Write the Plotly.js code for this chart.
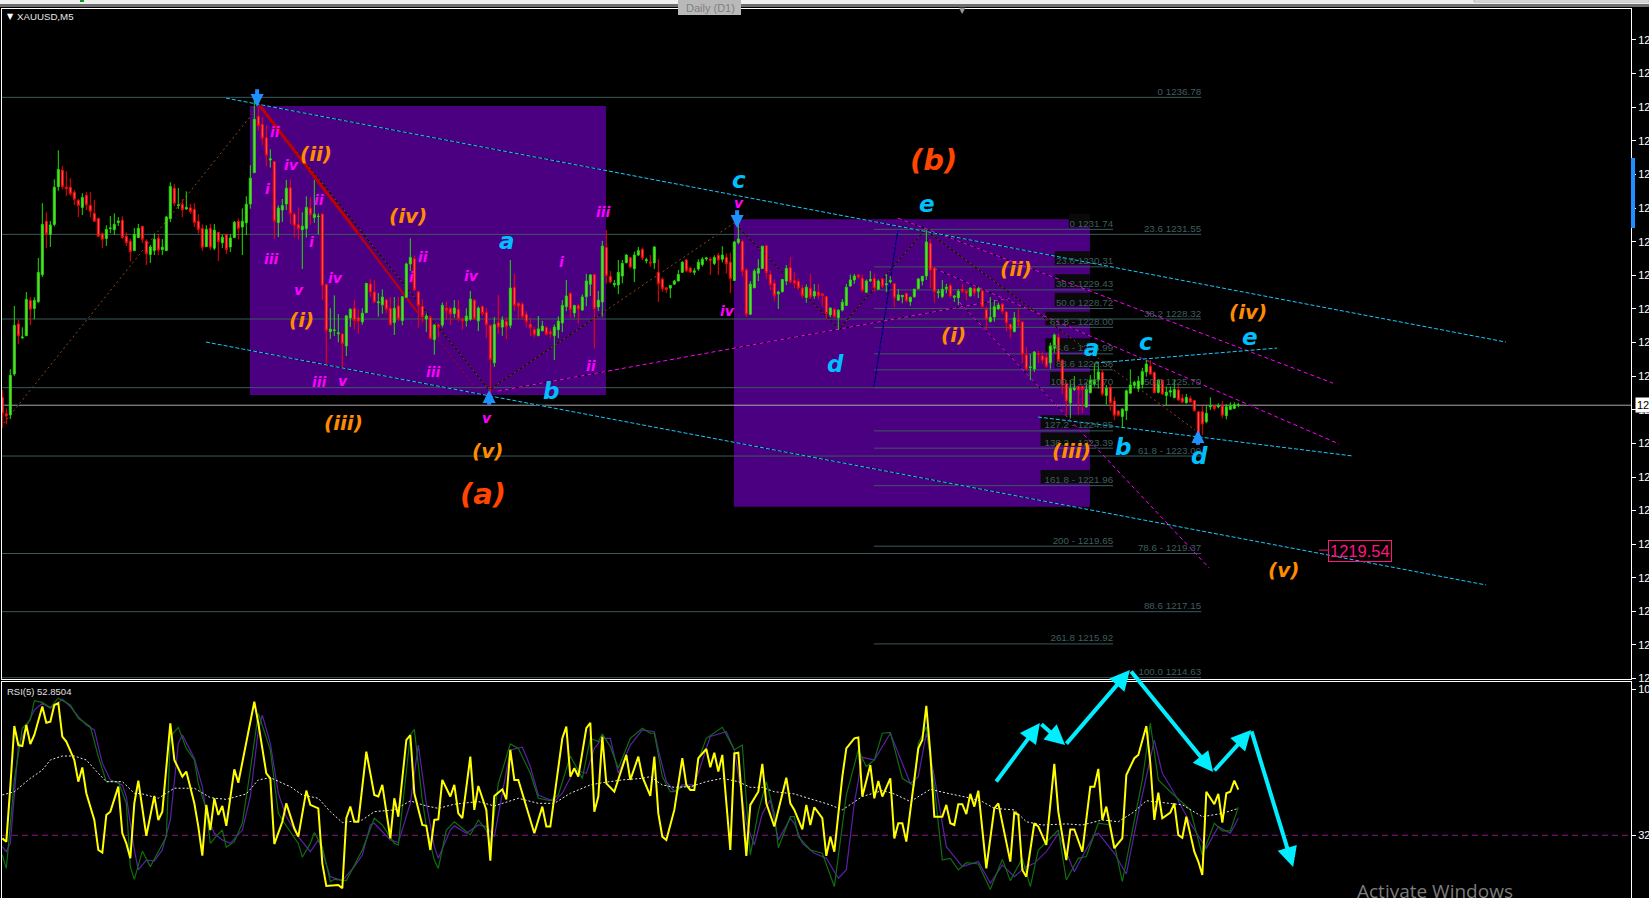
<!DOCTYPE html>
<html><head><meta charset="utf-8">
<script src="https://cdn.plot.ly/plotly-3.0.1.min.js"></script>
<style>html,body{margin:0;padding:0;background:#000;overflow:hidden}</style></head>
<body><div id="chart" style="width:1649px;height:898px"></div>
<script>
const high=[1225.61,1224.91,1226.40,1228.82,1228.28,1228.00,1229.35,1229.15,1229.15,1230.65,
1232.74,1232.39,1232.06,1233.65,1234.76,1234.16,1233.96,1233.69,1233.24,1232.91,
1233.12,1233.16,1233.16,1232.86,1232.18,1231.62,1231.90,1232.25,1232.35,1232.21,
1232.24,1231.63,1231.39,1231.79,1231.95,1231.87,1231.36,1231.15,1231.59,1231.55,
1231.37,1232.25,1233.54,1233.47,1233.32,1232.89,1233.19,1232.71,1232.74,1232.32,
1231.93,1231.90,1231.95,1231.95,1231.63,1231.55,1231.55,1231.55,1232.06,1232.16,
1232.54,1233.00,1234.19,1236.78,1236.40,1236.02,1235.71,1234.80,1234.34,1232.66,
1232.90,1233.63,1233.65,1232.39,1232.58,1232.39,1233.00,1232.96,1233.63,1232.35,
1232.34,1229.66,1228.73,1229.22,1228.51,1227.76,1228.47,1228.73,1229.03,1228.69,
1228.73,1229.68,1229.84,1229.80,1229.31,1229.45,1229.07,1229.16,1229.16,1229.16,
1229.20,1230.47,1231.40,1230.75,1229.36,
1229.08,1228.53,1228.44,1228.11,1228.13,1228.95,1228.98,1228.74,1229.04,1229.04,
1228.38,1228.73,1229.39,1229.08,1228.80,1228.84,1228.74,1228.10,1228.39,1229.23,
1228.42,1228.39,1230.57,1230.04,1228.97,1228.97,1228.61,1228.38,1228.03,1228.43,
1228.25,1228.05,1227.96,1228.11,1228.42,1229.04,1229.81,1229.34,1228.85,1228.89,
1229.26,1230.04,1230.04,1230.04,1229.39,1231.30,1231.71,1230.15,1229.81,1230.57,
1230.57,1230.80,
1230.67,1230.89,1231.07,1231.05,1230.66,1230.76,1231.10,1230.60,1229.90,1229.53,
1229.62,1229.81,1230.19,1230.52,1230.61,1230.32,1230.26,1230.60,1230.68,1230.68,
1230.68,1230.75,1230.84,1231.10,1230.82,1230.86,1231.30,1232.10,1231.36,1230.25,
1229.77,1230.23,1230.60,1231.10,1231.13,1230.19,1229.83,1229.40,1229.84,1230.38,
1230.68,1230.12,1229.87,1229.62,1229.64,1230.04,1229.65,1229.65,1229.30,1229.20,
1228.75,1228.75,1228.70,
1229.08,1229.66,1230.02,1230.04,1230.04,1230.02,1229.83,1230.15,1230.04,1229.83,
1229.88,1230.04,1229.96,1229.69,1229.46,1229.22,1229.31,1229.17,1229.46,1229.88,
1229.96,1231.72,1231.37,1230.29,1229.46,1229.81,1229.66,1229.68,1229.22,1229.46,
1229.66,1229.39,1229.53,1229.53,1229.55,1229.46,1228.79,1229.15,1229.04,1228.94,
1228.92,1228.61,1228.12,1228.59,1228.69,1228.22,1227.25,1226.98,1227.10,1227.10,
1227.07,1227.01,1227.41,1227.77,1227.77,1226.78,1225.99,1225.99,1226.14,1225.76,
1225.76,1225.89,1226.18,1226.63,1226.63,1226.37,1225.80,1225.80,1225.35,1224.84,
1224.91,1225.63,1226.40,1225.96,1226.14,1226.46,1226.75,1226.75,1226.31,1226.02,
1226.02,1225.74,1225.74,1225.99,1225.79,1225.46,1225.46,1225.38,1225.23,1224.78,
1225.00,1225.00,1225.33,1225.04,1225.10,1225.19,1225.07,1225.14,1225.14,1225.12];
const bodyTop=[1225.33,1224.70,1226.17,1228.08,1228.13,1227.63,1229.07,1229.03,1229.03,1230.10,
1231.93,1232.05,1231.91,1233.35,1234.03,1234.00,1233.35,1233.35,1233.16,1232.85,
1232.96,1233.04,1232.66,1232.35,1232.16,1231.57,1231.74,1231.79,1231.93,1232.06,
1232.09,1231.48,1231.29,1231.55,1231.78,1231.86,1231.29,1231.07,1231.36,1231.40,
1231.06,1232.21,1233.38,1233.31,1232.67,1232.70,1232.58,1232.56,1232.51,1232.05,
1231.78,1231.74,1231.78,1231.71,1231.63,1231.44,1231.55,1231.41,1232.01,1232.05,
1232.05,1232.70,1233.69,1235.94,1236.06,1235.75,1235.24,1234.43,1234.33,1232.56,
1232.65,1233.31,1233.33,1232.32,1231.92,1231.86,1232.58,1232.55,1232.32,1232.24,
1232.33,1229.64,1227.93,1227.90,1227.79,1227.75,1228.44,1228.69,1228.73,1228.37,
1228.54,1229.68,1229.66,1229.35,1228.97,1229.16,1229.05,1228.72,1228.73,1228.82,
1229.17,1230.42,1230.67,1230.62,1229.36,
1228.81,1228.43,1228.38,1228.09,1228.10,1228.84,1228.74,1228.73,1228.74,1228.69,
1228.31,1228.43,1229.08,1229.04,1228.74,1228.80,1228.57,1228.08,1228.11,1228.18,
1228.28,1228.23,1229.50,1229.53,1228.92,1228.89,1228.50,1228.11,1227.92,1227.94,
1228.05,1228.00,1227.83,1228.01,1228.24,1228.84,1229.20,1229.30,1228.84,1228.83,
1229.16,1229.77,1230.00,1230.02,1229.04,1231.10,1231.05,1229.95,1229.68,1230.10,
1230.44,1230.76,
1230.66,1230.76,1230.93,1230.98,1230.58,1230.49,1231.07,1230.10,1229.84,1229.51,
1229.60,1229.77,1230.02,1230.49,1230.57,1230.26,1230.16,1230.49,1230.60,1230.65,
1230.61,1230.67,1230.75,1230.76,1230.67,1230.49,1231.26,1231.37,1231.28,1230.19,
1229.65,1230.15,1230.25,1231.10,1231.12,1230.02,1229.68,1229.35,1229.83,1230.25,
1230.28,1229.79,1229.76,1229.50,1229.53,1229.49,1229.37,1229.34,1229.28,1229.18,
1228.74,1228.69,1228.65,
1228.96,1229.53,1229.81,1229.96,1230.00,1229.87,1229.77,1229.83,1229.87,1229.77,
1229.85,1229.66,1229.78,1229.67,1229.24,1229.22,1229.30,1229.15,1229.46,1229.85,
1229.95,1231.26,1231.21,1230.27,1229.36,1229.45,1229.53,1229.60,1229.20,1229.38,
1229.46,1229.38,1229.50,1229.49,1229.48,1229.39,1228.69,1228.38,1228.79,1228.85,
1228.89,1228.59,1228.12,1228.36,1228.28,1228.21,1226.95,1226.49,1227.06,1227.00,
1226.91,1226.86,1227.29,1227.71,1227.62,1226.75,1225.86,1225.67,1225.67,1225.74,
1225.74,1225.63,1225.99,1225.99,1226.30,1226.28,1225.67,1225.71,1225.19,1224.81,
1224.88,1225.58,1225.80,1225.90,1225.95,1226.31,1226.60,1226.52,1226.28,1225.99,
1225.99,1225.53,1225.58,1225.63,1225.61,1225.30,1225.33,1225.29,1225.21,1224.78,
1224.78,1224.72,1225.00,1225.00,1225.00,1225.00,1224.97,1225.00,1225.05,1225.04];
const bodyBottom=[1224.72,1224.62,1224.66,1226.22,1227.68,1227.60,1227.68,1228.69,1228.72,1228.98,
1230.01,1231.57,1231.55,1231.93,1233.37,1233.37,1233.30,1233.10,1232.89,1232.65,
1232.58,1232.68,1232.43,1232.05,1231.48,1231.36,1231.39,1231.77,1231.73,1232.00,
1231.43,1231.23,1230.89,1230.93,1231.43,1231.36,1230.81,1230.78,1230.93,1230.95,
1230.97,1230.93,1232.15,1232.74,1232.65,1232.49,1232.52,1232.42,1232.00,1231.74,
1231.06,1231.08,1231.06,1231.02,1231.27,1231.23,1230.97,1231.07,1231.43,1231.77,
1231.83,1231.99,1232.71,1233.91,1235.70,1235.22,1234.57,1234.39,1232.05,1232.00,
1232.48,1232.71,1232.34,1231.90,1231.77,1231.73,1231.77,1232.30,1232.19,1232.23,
1229.61,1227.88,1227.84,1227.88,1227.76,1227.38,1227.29,1228.36,1228.26,1228.24,
1228.21,1228.56,1229.35,1228.97,1228.94,1228.86,1228.69,1228.10,1228.18,1228.33,
1228.26,1229.15,1230.42,1229.43,1228.83,
1228.41,1228.32,1227.57,1227.53,1228.03,1228.09,1228.64,1228.51,1228.53,1228.33,
1228.25,1228.25,1228.31,1228.33,1228.25,1228.53,1228.10,1226.77,1226.65,1228.01,
1228.01,1228.03,1228.08,1228.84,1228.81,1228.41,1228.22,1227.99,1227.72,1227.68,
1227.87,1227.73,1227.75,1227.68,1227.91,1228.17,1228.79,1228.69,1228.55,1228.70,
1228.66,1229.17,1229.65,1228.71,1228.78,1228.97,1229.98,1229.73,1229.63,1229.62,
1229.96,1230.47,
1230.30,1230.24,1230.76,1230.65,1230.54,1230.46,1230.46,1229.67,1229.48,1229.45,
1229.50,1229.65,1229.77,1230.10,1230.16,1230.11,1230.10,1230.23,1230.40,1230.61,
1230.56,1230.44,1230.57,1230.60,1230.43,1229.86,1229.79,1231.24,1230.14,1228.50,
1228.50,1229.51,1230.07,1230.25,1230.09,1229.63,1229.21,1229.28,1229.36,1229.77,
1229.74,1229.68,1229.50,1229.21,1229.14,1229.16,1229.20,1229.21,1229.21,1228.53,
1228.48,1228.41,1228.37,
1228.66,1228.84,1229.58,1229.81,1229.92,1229.41,1229.34,1229.78,1229.50,1229.46,
1229.57,1229.63,1229.74,1229.13,1229.04,1229.17,1229.01,1228.98,1229.17,1229.48,
1229.77,1229.96,1230.18,1229.36,1229.32,1229.18,1229.48,1229.20,1229.15,1229.13,
1229.38,1229.31,1229.20,1229.32,1229.38,1228.79,1228.32,1228.22,1228.40,1228.71,
1228.62,1228.18,1227.93,1227.84,1228.24,1226.97,1226.42,1226.46,1226.41,1226.97,
1226.75,1226.52,1226.65,1227.20,1226.73,1225.80,1225.19,1225.12,1225.63,1225.61,
1225.63,1224.96,1225.51,1225.84,1225.99,1225.46,1225.40,1225.12,1224.65,1224.65,
1224.60,1224.82,1225.49,1225.79,1225.67,1225.82,1226.30,1226.22,1225.51,1225.52,
1225.46,1225.40,1225.53,1225.32,1225.23,1225.15,1225.12,1225.15,1224.82,1223.89,
1224.31,1224.40,1224.97,1224.90,1224.97,1224.65,1224.63,1224.87,1224.91,1225.02];
const low=[1224.16,1224.31,1224.50,1226.15,1227.37,1227.56,1227.67,1228.09,1228.31,1228.93,
1229.92,1231.03,1231.07,1231.85,1233.21,1233.27,1233.02,1233.02,1232.67,1232.21,
1232.29,1232.48,1232.21,1232.02,1231.45,1231.03,1231.11,1231.60,1231.53,1231.87,
1231.37,1231.11,1230.52,1230.92,1231.40,1231.22,1230.38,1230.46,1230.76,1230.76,
1230.76,1230.92,1232.02,1232.63,1232.52,1232.21,1232.48,1232.33,1231.83,1231.59,
1230.92,1231.07,1230.95,1230.95,1230.53,1231.02,1230.80,1230.88,1231.40,1231.36,
1230.76,1231.53,1232.53,1233.88,1235.50,1234.95,1234.17,1234.10,1231.37,1231.45,
1232.02,1232.48,1231.95,1231.43,1231.35,1230.23,1231.43,1231.92,1231.99,1231.55,
1229.05,1226.60,1227.56,1227.67,1227.43,1226.48,1226.91,1228.02,1227.93,1227.75,
1228.10,1228.55,1229.17,1228.92,1228.41,1228.52,1228.54,1228.09,1227.71,1228.23,
1228.08,1229.12,1230.15,1229.40,1227.99,
1228.19,1227.83,1227.54,1226.96,1227.62,1228.00,1228.31,1228.09,1228.37,1228.23,
1227.91,1228.03,1228.25,1228.31,1227.86,1228.43,1227.59,1225.42,1226.49,1227.75,
1227.68,1227.55,1227.96,1228.62,1228.34,1228.33,1228.00,1227.67,1227.61,1227.67,
1227.85,1227.69,1227.59,1226.75,1227.59,1227.82,1228.62,1228.37,1228.38,1228.15,
1228.64,1228.81,1229.20,1227.19,1228.62,1228.41,1229.67,1229.68,1229.53,1229.27,
1229.68,1230.44,
1230.25,1229.73,1230.72,1230.57,1230.44,1230.32,1230.23,1228.97,1229.36,1229.31,
1229.12,1229.62,1229.76,1230.09,1230.10,1230.07,1230.00,1230.16,1230.32,1230.54,
1230.00,1230.38,1230.00,1230.48,1230.06,1229.31,1229.77,1231.17,1229.93,1228.41,
1228.47,1229.50,1229.77,1230.24,1229.86,1229.42,1228.99,1228.70,1229.34,1229.62,
1229.68,1229.50,1229.42,1229.11,1228.94,1229.09,1229.09,1229.07,1228.81,1228.31,
1228.39,1228.36,1227.91,
1228.61,1228.82,1229.55,1229.66,1229.85,1229.34,1229.31,1229.73,1229.35,1229.43,
1229.50,1229.35,1229.67,1228.79,1229.01,1228.92,1228.96,1228.82,1229.13,1229.45,
1229.60,1229.81,1229.50,1228.94,1229.11,1229.11,1229.30,1229.13,1228.97,1228.85,
1229.31,1229.04,1229.17,1229.20,1229.12,1228.76,1227.90,1228.19,1228.22,1228.66,
1228.51,1227.85,1227.59,1227.81,1228.01,1226.63,1226.35,1225.99,1226.30,1226.64,
1226.61,1226.44,1226.42,1227.03,1226.69,1225.46,1224.65,1224.53,1225.57,1224.68,
1224.72,1224.95,1225.48,1225.74,1225.67,1225.38,1225.06,1224.82,1224.46,1224.59,
1224.17,1224.46,1225.46,1225.67,1225.54,1225.67,1226.12,1226.18,1225.48,1225.48,
1225.42,1225.02,1225.35,1225.29,1225.19,1225.10,1225.10,1225.12,1224.79,1223.85,
1223.89,1224.34,1224.84,1224.82,1224.91,1224.53,1224.49,1224.84,1224.88,1224.95];
const direction="rrggrggrgg"+"grgggrrrrr"+"grrrrrgggg"+"rrrggrrggr"+"gggrgrgrrr"+"rgrgrgrggr"+"ggggrrrgrg"+"ggrrrggrgg"+"rrgggrggrr"+"ggrrggrrgr"+
"gggrrrgrgr"+"grrgrrggrg"+"rrrgrgrgrr"+"rrrrggrrgg"+"ggrgrgggrg"+"grrggggrgg"+"rgrgrrrggg"+"grrggggrgr"+"grrggrrggg"+"grrrgggrrr"+
"rgrgrrrgrg"+"ggggrrggrg"+"rggrggrggg"+"ggrrgggrgg"+"rrgrgrrggg"+"rrrgrrrggr"+"rrggrrrggr"+"rggggrgrrr"+"gggggggrrg"+"rgggrrgrrr"+"rggrgrgggg";

const rsiBars=[0,1,2,3,4,5,6,7,8,10,11,12,13,14,15,16,18,19,20,21,23,24,25,26,27,29,30,31,32,33,34,35,36,38,39,40,42,43,45,46,48,49,50,51,52,53,54,55,56,58,59,63,64,66,67,68,70,71,73,74,76,77,79,80,81,84,85,86,87,88,89,91,93,94,95,97,98,99,101,102,103,105,106,107,108,109,110,112,113,114,115,117,118,119,121,122,123,125,126,127,128,129,133,135,136,137,140,141,142,143,144,146,147,148,149,150,151,153,156,157,159,160,162,163,164,165,166,168,170,171,172,173,174,176,177,178,179,180,181,182,183,184,186,187,189,190,191,193,196,197,198,200,201,202,203,205,206,207,208,210,211,213,214,215,217,218,219,220,222,223,224,225,226,227,229,230,231,232,233,235,236,237,238,239,240,241,242,243,244,246,248,249,252,253,254,255,256,258,259,261,263,264,266,267,268,270,272,273,274,275,276,278,280,281,283,284,286,287,288,289,290,292,293,294,295,296,298,299,300,301,303,304,305,306,307,308,309];
const rsiValues=[30.6,29.1,54.2,81.9,73.2,72.8,82.4,73.7,77.8,90.8,83.4,83.9,91.5,92.3,77.1,74.8,66.4,56.5,63.0,51.2,39.0,25.3,24.1,41.3,42.8,54.2,32.9,28.3,21.5,46.6,57.0,45.1,31.8,50.0,39.0,42.8,83.1,66.4,58.8,61.1,46.6,36.0,22.7,45.9,34.4,48.9,41.3,45.4,36.3,62.1,56.0,93.0,83.1,60.3,58.0,28.0,38.2,46.6,35.2,31.4,52.4,45.9,44.3,19.2,8.9,9.3,7.8,39.8,45.1,38.2,38.2,70.2,50.4,49.7,55.0,30.6,48.9,40.5,75.5,77.8,51.2,36.7,36.3,25.3,39.0,39.3,57.3,49.7,55.0,42.0,39.8,67.9,43.6,54.5,43.6,20.4,50.0,53.0,48.4,71.0,57.3,57.3,32.9,45.1,36.0,36.0,76.3,81.6,58.8,62.6,58.8,80.9,83.4,42.8,49.7,77.1,55.7,51.9,68.7,57.3,67.9,58.8,50.0,67.9,42.0,31.4,29.9,43.6,67.2,55.0,52.7,52.7,67.2,71.4,63.1,69.7,61.1,68.7,46.6,25.3,69.4,69.7,22.6,45.9,51.9,64.6,46.6,36.0,58.3,46.6,43.6,34.7,45.9,36.7,44.8,39.8,22.6,31.4,24.5,58.8,71.7,76.3,76.7,49.7,64.1,48.9,56.8,49.7,58.0,30.6,37.5,37.5,29.1,43.6,71.7,75.5,91.1,69.4,40.5,40.5,45.9,37.5,36.7,46.2,46.2,41.7,50.9,45.1,52.4,16.9,44.3,46.6,20.0,42.4,41.3,16.2,13.1,37.5,36.0,27.6,64.6,42.8,20.7,34.7,34.7,24.5,54.2,54.2,62.3,39.0,45.1,26.1,30.6,59.5,67.2,68.7,81.9,64.9,39.0,51.5,39.8,42.4,46.6,32.2,30.9,40.5,24.5,20.0,13.9,51.9,46.2,50.9,37.8,51.2,51.9,57.0,52.85];

const maFastBars=[0,1,3,5,7,8,10,12,14,17,19,21,22,24,26,29,31,32,33,35,37,39,41,42,44,46,48,49,51,52,53,55,56,58,60,62,64,67,69,70,74,75,77,78,80,82,83,86,89,90,93,95,98,99,102,103,105,106,108,109,111,113,115,117,119,121,122,124,127,129,132,134,137,139,142,145,147,149,150,152,154,157,160,162,163,165,167,168,170,173,174,176,180,183,185,187,189,191,193,194,197,198,199,202,205,208,211,214,216,218,220,222,225,228,229,231,233,235,237,239,241,244,247,250,252,255,257,259,264,266,269,271,274,277,280,282,285,287,289,292,297,300,303,305,307,309];
const maFastValues=[23.0,16.9,57.3,80.9,84.7,93.5,92.7,90.4,94.6,91.5,85.4,83.1,81.6,67.9,56.5,56.5,46.6,17.7,11.9,24.8,17.7,24.5,31.4,77.1,81.3,71.7,66.4,55.7,43.6,28.3,30.6,34.4,26.5,29.1,37.5,61.8,87.7,71.0,42.0,39.0,28.3,22.0,28.3,33.2,26.8,10.8,11.9,11.3,22.3,25.3,39.8,36.7,28.3,27.6,77.8,80.4,48.1,36.0,20.7,16.9,34.4,38.2,35.2,32.2,39.0,34.4,27.6,55.7,73.7,71.7,60.3,48.9,47.8,50.4,68.2,58.0,76.3,74.8,78.3,72.5,62.6,76.3,80.9,78.6,78.6,58.8,51.9,51.9,54.2,54.2,66.4,76.3,81.3,71.0,73.2,23.0,42.8,56.5,42.0,26.3,40.5,40.5,31.4,25.3,23.8,8.6,50.4,71.0,63.4,66.4,78.6,79.0,58.0,54.5,74.0,81.6,54.2,20.7,21.5,16.2,19.5,18.9,7.3,21.0,11.3,21.5,8.6,25.3,34.4,11.6,21.5,22.3,37.5,36.7,10.8,29.1,57.3,83.1,57.3,51.9,43.6,23.0,37.5,34.0,34.0,44.8];

const maMidBars=[0,1,2,4,6,8,10,12,15,17,19,21,23,25,27,30,31,33,34,36,38,40,42,44,45,48,50,51,53,55,57,60,62,64,65,67,69,71,74,77,79,81,82,85,88,90,92,93,97,99,102,104,106,108,109,112,113,116,119,121,123,125,127,130,132,134,138,140,143,146,148,150,152,154,157,160,163,164,166,168,170,173,175,177,181,183,186,188,190,192,194,197,198,200,203,206,209,211,213,215,218,222,224,227,229,231,233,236,240,244,247,250,253,256,258,261,264,268,270,273,274,278,281,284,288,290,293,297,301,304,307,309];
const maMidValues=[26.8,24.5,28.3,72.5,81.6,89.2,92.3,90.0,94.1,90.8,86.2,82.4,80.1,64.9,57.3,55.0,49.7,25.3,16.2,20.7,20.3,25.3,39.0,74.0,77.8,67.2,54.2,42.0,32.9,29.9,28.3,34.4,49.7,80.1,86.9,74.0,51.2,40.5,31.4,24.5,29.9,19.2,13.1,11.3,17.7,23.0,36.7,37.5,29.9,28.7,46.6,73.2,46.6,26.8,21.5,34.4,36.3,32.9,36.7,36.0,31.4,51.2,71.0,72.2,63.4,50.4,47.4,51.2,61.8,60.3,71.7,76.3,76.3,60.3,73.2,80.1,79.3,71.0,56.5,51.9,55.0,55.0,66.4,77.1,79.3,71.0,37.5,27.6,42.0,48.1,29.9,39.8,37.5,28.3,23.8,21.5,12.4,16.2,46.6,67.6,66.4,78.6,69.4,55.7,58.8,78.6,58.8,26.8,17.7,20.0,10.1,18.5,13.1,17.7,19.2,24.5,32.9,15.4,22.3,32.2,32.9,23.8,14.3,42.0,75.5,60.3,51.2,37.5,26.1,36.0,32.9,39.8];

const maSlowBars=[0,3,7,10,12,15,18,21,24,26,30,33,35,39,43,48,52,56,61,64,67,72,75,79,82,85,90,93,98,102,106,109,113,119,123,129,134,138,142,147,150,155,160,162,165,168,172,176,180,184,187,190,193,198,203,207,210,213,215,220,223,227,232,237,241,245,248,253,256,260,266,270,275,279,283,286,290,295,300,305,309];
const maSlowValues=[50.4,51.9,58.0,61.8,66.4,68.2,68.2,66.4,60.3,56.5,56.5,51.2,50.9,48.9,53.5,53.5,49.2,48.4,50.9,57.3,58.3,54.2,50.4,48.9,42.8,37.8,39.0,42.8,43.6,47.7,45.4,44.3,46.2,47.4,45.4,48.9,46.6,46.6,51.2,55.0,56.0,57.3,58.0,58.8,55.0,53.9,54.2,56.5,58.0,56.5,53.9,53.9,51.9,50.9,48.1,45.9,43.6,47.4,49.7,52.4,50.9,47.4,53.0,50.9,49.4,47.4,44.3,43.6,38.2,36.7,37.2,36.7,39.0,38.2,42.8,47.8,47.1,45.9,40.5,42.0,44.3];

const fibOuterLevels=[1236.78,1231.55,1228.32,1225.70,1223.09,1219.37,1217.15,1214.63];
const fibOuterTexts=["0 1236.78","23.6 1231.55","38.2 1228.32","50.0 1225.70","61.8 - 1223.09","78.6 - 1219.37","88.6 1217.15","100.0 1214.63"];
const fibInnerLevels=[1231.74,1230.31,1229.43,1228.72,1228.00,1226.99,1226.38,1225.70,1224.05,1223.39,1221.96,1219.65,1215.92];
const fibInnerTexts=["0 1231.74","23.6 1230.31","38.2 1229.43","50.0 1228.72","61.8 - 1228.00","78.6 - 1226.99","88.6 1226.38","100.0 1225.70","127.2 - 1224.05","138.2 - 1223.39","161.8 - 1221.96","200 - 1219.65","261.8 1215.92"];
const priceTicks=[1238.97,1237.69,1236.40,1235.12,1233.84,1232.55,1231.27,1229.99,1228.71,1227.42,1226.14,1224.86,1223.58,1222.29,1221.01,1219.73,1218.44,1217.16,1215.88,1214.60];
const currentPrice=1225.03;

// wave counts: [text, bar, price]
const orangeLabels=[["(ii)",78.5,1234.63],["(iv)",101.4,1232.25],["(i)",74.7,1228.28],["(iii)",85.4,1224.35],["(v)",121.4,1223.28],["(i)",237.7,1227.71],["(ii)",253.4,1230.23],["(iii)",267.4,1223.28],["(iv)",311.4,1228.59],["(v)",320.4,1218.74]];
const bigLabels=[["(a)",120.2,1221.64],["(b)",232.7,1234.39]];
const blueLabels=[["a",126.2,1231.3],["b",137.2,1225.57],["c",184.2,1233.62],["d",208.4,1226.60],["e",231.2,1232.71],["a",272.4,1227.21],["b",280.2,1223.43],["c",285.9,1227.44],["d",299.4,1223.09],["e",311.9,1227.63]];
const magentaLabels=[["ii",68.2,1235.46],["iv",72.2,1234.20],["i",66.2,1233.28],["ii",79.2,1232.86],["i",77.2,1231.26],["iii",67.2,1230.61],["v",74.2,1229.43],["iv",83.2,1229.88],["ii",105.2,1230.68],["i",102.2,1229.92],["iv",117.2,1229.96],["iii",79.2,1225.91],["v",85.2,1225.95],["iii",107.9,1226.29],["v",121.2,1224.54],["i",139.9,1230.49],["iii",150.2,1232.40],["ii",147.2,1226.52],["v",184.2,1232.75],["iv",181.4,1228.62]];

// trend lines: [bar0, price0, bar1, price1]
const cyanLines=[[55.9,1236.75,375.9,1227.44],[50.9,1227.44,370.9,1218.17],[258.9,1224.58,337.7,1223.09],[273.2,1226.64,318.7,1227.21]];
const magentaLines=[[223.9,1232.17,332.7,1225.87],[232.9,1230.26,334.2,1223.55],[239.2,1228.97,301.7,1218.82],[123.9,1225.57,251.9,1229.12]];
const brownLines=[[0.4,1224.35,62.7,1236.18],[64.2,1236.49,121.7,1225.61],[121.7,1225.61,182.9,1231.98],[182.9,1231.98,209.2,1227.94],[209.2,1227.94,230.7,1231.72],[230.7,1231.72,298.2,1224.08]];
const boxes=[[61.9,1236.45,150.9,1225.42],[182.9,1232.13,271.9,1221.15]];
// blue pivot arrows: [bar, tipPrice, tailPrice]
const pivots=[[63.7,1236.41,1237.15],[121.7,1225.61,1224.99],[183.7,1231.79,1232.53],[298.9,1224.08,1223.46]];
// RSI forecast path: bars, RSI values
const pathBars=[248.2,259.4,265.7,281.9,302.7,312.2,322.7];
const pathValues=[55.9,83.3,73.2,107.5,60.9,80.1,17.5];

const W=1649,H=898;
const bars=high.map((_,i)=>i);
const up=bars.map(i=>direction[i]==="g");
const open=bars.map(i=>up[i]?bodyBottom[i]:bodyTop[i]);
const close=bars.map(i=>up[i]?bodyTop[i]:bodyBottom[i]);
const FIBC="#3a5a5a", FIBT="#3f5e5e";
const fibFont="'Liberation Sans',sans-serif";
const waveFont="'DejaVu Sans',sans-serif";

const traces=[
 {type:"scatter",mode:"text",x:fibOuterLevels.map(()=>299.7),y:fibOuterLevels,text:fibOuterTexts,textposition:"top left",textfont:{family:fibFont,size:9.8,color:FIBT},xaxis:"x",yaxis:"y",cliponaxis:false,hoverinfo:"skip"},
 {type:"scatter",mode:"text",x:fibInnerLevels.map(()=>277.7),y:fibInnerLevels,text:fibInnerTexts,textposition:"top left",textfont:{family:fibFont,size:9.8,color:FIBT},xaxis:"x",yaxis:"y",cliponaxis:false,hoverinfo:"skip"},
 {type:"candlestick",x:bars,open,high,low,close,xaxis:"x",yaxis:"y",whiskerwidth:0,
  increasing:{line:{color:"#1fe000",width:1},fillcolor:"#76d14a"},
  decreasing:{line:{color:"#ff0000",width:1},fillcolor:"#e06a6a"},hoverinfo:"skip"},
 {type:"scatter",mode:"lines",x:[-0.08,407.17],y:[32,32],xaxis:"x2",yaxis:"y2",line:{color:"#8a1a8a",width:1,dash:"6px,4px"},hoverinfo:"skip"},
 {type:"scatter",mode:"lines",x:maMidBars,y:maMidValues,xaxis:"x2",yaxis:"y2",line:{color:"#5a20a8",width:1.2},hoverinfo:"skip"},
 {type:"scatter",mode:"lines",x:maFastBars,y:maFastValues,xaxis:"x2",yaxis:"y2",line:{color:"#0f6e0f",width:1.2},hoverinfo:"skip"},
 {type:"scatter",mode:"lines",x:maSlowBars,y:maSlowValues,xaxis:"x2",yaxis:"y2",line:{color:"#e8e8e8",width:1,dash:"2px,2px"},hoverinfo:"skip"},
 {type:"scatter",mode:"lines",x:rsiBars,y:rsiValues,xaxis:"x2",yaxis:"y2",line:{color:"#ffff00",width:2},hoverinfo:"skip"}
];

const shapes=[];
const seg=(l,color,width,dash)=>shapes.push({type:"line",xref:"x",yref:"y",x0:l[0],y0:l[1],x1:l[2],y1:l[3],layer:"below",line:{color,width,dash:dash||"solid"}});
boxes.forEach(b=>shapes.push({type:"rect",xref:"x",yref:"y",x0:b[0],y0:b[1],x1:b[2],y1:b[3],layer:"below",line:{width:0},fillcolor:"#4b0082"}));
fibInnerTexts.forEach((t,i)=>{ if(fibInnerLevels[i]>1221){shapes.push({type:"rect",xref:"x",yref:"y",x0:277.7-(t.length*4.7+2)/4,x1:271.9,y0:fibInnerLevels[i]+0.08,y1:fibInnerLevels[i]+0.6,layer:"below",line:{width:0},fillcolor:"#0a0a0a"});}});
fibOuterLevels.forEach(p=>seg([-0.08,p,299.7,p],FIBC,1));
fibInnerLevels.forEach(p=>seg([217.9,p,277.7,p],FIBC,1));
seg([-0.08,currentPrice,407.17,currentPrice],"#a8a8a8",1);
brownLines.forEach(l=>{seg(l,"#000",1);seg(l,"#8b4a1a",1,"2px,3px");});
seg([223.9,1231.72,217.9,1225.73],"#000",1);
seg([223.9,1231.72,217.9,1225.73],"#0000ff",1,"3px,2px");
seg([64.2,1236.49,88.9,1231.60],"#c00000",3);
seg([88.9,1231.60,103.7,1228.59],"#c00000",2);
seg([103.7,1228.59,118.7,1225.61],"#c00000",1,"2px,3px");
magentaLines.forEach(l=>{seg(l,"#000",1);seg(l,"#ff00ff",1,"4px,3px");});
cyanLines.forEach(l=>{seg(l,"#000",1);seg(l,"#1cc8ff",1,"4px,2px");});
seg([329.2,1219.50,331.7,1219.50],"#ff1480",1);
const px=(x0,y0,x1,y1,fill,line)=>shapes.push({type:"rect",xref:"paper",yref:"paper",x0:x0/W,x1:x1/W,y0:1-y0/H,y1:1-y1/H,layer:"above",fillcolor:fill,line:line||{width:0}});
px(0,0,W,4,"#eeeeee");
px(0,4,W,7,"#6e6e6e");
px(80,0,84,2,"#0a9a20");
px(1474,0,W,2,"#f8f8f8",{color:"#b0b0b0",width:1});
px(678,0,741,15,"#b9b9b9");
px(1631,158,1635,228,"#1e90ff");

const ann=[];
const label=(list,color,size)=>list.forEach(l=>ann.push({xref:"x",yref:"y",x:l[1],y:l[2],text:"<b><i>"+l[0]+"</i></b>",showarrow:false,font:{family:waveFont,size,color}}));
label(orangeLabels,"#ff8c00",20);
label(bigLabels,"#ff4500",29);
label(blueLabels,"#00bfff",23);
label(magentaLabels,"#ff00ff",14);
pivots.forEach(p=>ann.push({xref:"x",yref:"y",axref:"x",ayref:"y",x:p[0],y:p[1],ax:p[0],ay:p[2],text:"",showarrow:true,arrowhead:2,arrowsize:0.65,arrowwidth:4,arrowcolor:"#1e90ff"}));
for(let i=1;i<pathBars.length;i++){ann.push({xref:"x2",yref:"y2",axref:"x2",ayref:"y2",x:pathBars[i],y:pathValues[i],ax:pathBars[i-1],ay:pathValues[i-1],text:"",showarrow:true,arrowhead:2,arrowsize:1,arrowwidth:4,arrowcolor:"#00eeff",standoff:0,startstandoff:0});}
ann.push({xref:"x",yref:"y",x:339.3,y:1219.46,text:"1219.54",showarrow:false,font:{family:fibFont,size:16.5,color:"#ff1480"},bordercolor:"#ff1480",borderwidth:1,borderpad:1,bgcolor:"rgba(0,0,0,0)"});
const pa=(x,y,text,font,extra)=>ann.push(Object.assign({xref:"paper",yref:"paper",x:x/W,y:1-y/H,text,showarrow:false,font,xanchor:"left",yanchor:"middle"},extra||{}));
pa(5,17,"▼",{family:"DejaVu Sans",size:8,color:"#ffffff"});
pa(15,17,"XAUUSD,M5",{family:fibFont,size:9.7,color:"#e8e8e8"});
pa(5,691,"RSI(5) 52.8504",{family:fibFont,size:9.5,color:"#e0e0e0"});
pa(1355,891,"Activate Windows",{family:"Open Sans",size:19,color:"#7c7c7c"});
pa(684,8,"Daily (D1)",{family:"Liberation Sans",size:11,color:"#808080"});
pa(957,10,"▼",{family:"DejaVu Sans",size:8,color:"#9a9a9a"});
ann.push({xref:"paper",yref:"y",x:1635/W,y:currentPrice,xanchor:"left",text:"12 ",showarrow:false,bgcolor:"#ffffff",font:{family:"Liberation Sans",size:11,color:"#000"},borderpad:1});

const dom=[2/W,1631/W];
const layout={width:W,height:H,margin:{l:0,r:0,t:0,b:0,pad:0},paper_bgcolor:"#000",plot_bgcolor:"#000",showlegend:false,
 shapes,annotations:ann,
 xaxis:{domain:dom,range:[-0.08,407.17],anchor:"y",showgrid:false,zeroline:false,showticklabels:false,ticks:"",showline:true,mirror:true,linecolor:"#fff",linewidth:1,rangeslider:{visible:false}},
 xaxis2:{domain:dom,range:[-0.08,407.17],anchor:"y2",showgrid:false,zeroline:false,showticklabels:false,ticks:"",showline:true,mirror:true,linecolor:"#fff",linewidth:1},
 yaxis:{domain:[(H-678.5)/H,(H-8.5)/H],range:[1214.60,1240.17],anchor:"x",side:"right",showgrid:false,zeroline:false,showline:true,mirror:true,linecolor:"#fff",linewidth:1,
  tickmode:"array",tickvals:priceTicks,ticktext:priceTicks.map(()=>"12"),ticks:"outside",ticklen:4,tickcolor:"#fff",tickfont:{family:"Liberation Sans",size:11,color:"#fff"}},
 yaxis2:{domain:[0,(H-682)/H],range:[3.37,102],anchor:"x2",side:"right",showgrid:false,zeroline:false,showline:true,mirror:true,linecolor:"#fff",linewidth:1,
  tickmode:"array",tickvals:[98.6,32],ticktext:["100","32"],ticks:"outside",ticklen:4,tickcolor:"#fff",tickfont:{family:"Liberation Sans",size:11,color:"#fff"}}
};
Plotly.newPlot("chart",traces,layout,{displayModeBar:false,staticPlot:true});
</script></body></html>
